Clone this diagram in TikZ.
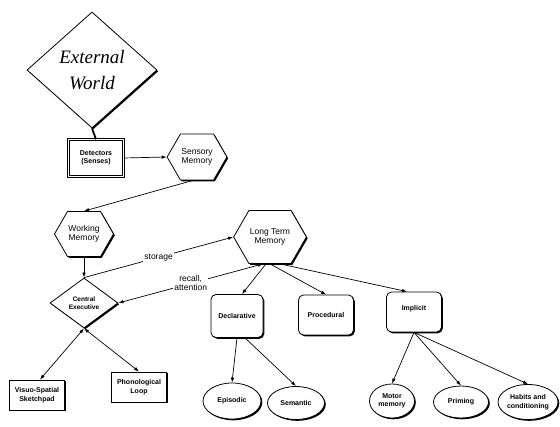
\documentclass[tikz,border=0pt]{standalone}
\usepackage{fontspec}
\setmainfont{Liberation Sans}
\newfontfamily\extfont{Liberation Serif}
\usetikzlibrary{shapes.geometric,shapes.symbols,arrows.meta,shadows}
\begin{document}
\begin{tikzpicture}[x=1pt,y=-1pt,
  base/.style={draw, line width=0.8pt, fill=white, inner sep=1pt, align=center,
    drop shadow={shadow xshift=1.3pt, shadow yshift=-1.3pt, opacity=1, fill=black}},
  hexa/.style={base, signal, signal to=east and west, signal pointer angle=120,
    font=\fontsize{8.5}{9.5}\selectfont},
  box/.style={base, rectangle, font=\bfseries\fontsize{7}{8.5}\selectfont},
  rbox/.style={box, rounded corners=5pt},
  oval/.style={base, ellipse, inner sep=0pt, font=\bfseries\fontsize{7}{8.5}\selectfont},
  dia/.style={base, diamond, inner sep=0pt},
  arr/.style={-{Latex[length=5pt,width=3.5pt]}, line width=0.7pt},
  darr/.style={{Latex[length=5pt,width=3.5pt]}-{Latex[length=5pt,width=3.5pt]}, line width=0.7pt},
  lbl/.style={fill=white, inner sep=1pt, font=\fontsize{8.5}{9}\selectfont, align=center}]
\path[use as bounding box, fill=white] (0,0) rectangle (560,427);

% nodes
\node[dia, minimum width=130, minimum height=116, font=\extfont\itshape\fontsize{19}{26}\selectfont] (ext) at (92,70) {External\\World};
\node[box, double, double distance=1.2pt, line width=0.5pt, minimum width=55, minimum height=37] (det) at (96,158) {Detectors\\(Senses)};
\node[hexa, minimum width=57, minimum height=46] (sens) at (197,157) {Sensory\\Memory};
\node[hexa, minimum width=58, minimum height=45] (wm) at (84,234) {Working\\Memory};
\node[hexa, minimum width=70, minimum height=53] (ltm) at (270,237) {Long Term\\Memory};
\node[dia, minimum width=68, minimum height=50, font=\bfseries\fontsize{6.5}{8}\selectfont] (ce) at (84,303) {Central\\Executive};
\node[box, minimum width=55, minimum height=30] (vis) at (37,395) {Visuo-Spatial\\Sketchpad};
\node[box, minimum width=55, minimum height=30] (pho) at (139,387) {Phonological\\Loop};
\node[rbox, minimum width=52, minimum height=43] (dec) at (237,316) {Declarative};
\node[rbox, minimum width=55, minimum height=40] (pro) at (326,315) {Procedural};
\node[rbox, minimum width=55, minimum height=40] (imp) at (414,312) {Implicit\\\mbox{}};
\node[oval, minimum width=58, minimum height=36] (epi) at (232,401) {Episodic};
\node[oval, minimum width=57, minimum height=33] (sem) at (296,403) {Semantic};
\node[oval, minimum width=45, minimum height=34] (mot) at (392,401) {Motor\\memory};
\node[oval, minimum width=55, minimum height=32] (pri) at (461,402) {Priming};
\node[oval, minimum width=60, minimum height=35] (hab) at (528,402) {Habits and\\conditioning};

% connectors
\draw[line width=1.8pt] (ext.south) -- (det.north);
\draw[arr] (det.east) -- (sens.west);
\draw[arr] ([xshift=-4pt]sens.south) -- (wm.north);
\draw[arr] (wm.south) -- (ce.north);
\draw[arr] (ce.north) -- node[lbl]{storage} (ltm.west);
\draw[darr] ([xshift=-7pt]ltm.south) -- node[lbl]{recall,\\attention} (ce.east);
\draw[arr] ([xshift=-4pt]ltm.south) -- ([xshift=5pt]dec.north);
\draw[arr] (ltm.south) -- (pro.north);
\draw[arr] ([xshift=10pt]ltm.south) -- ([xshift=-7pt]imp.north);
\draw[arr] (dec.south) -- (epi.north);
\draw[arr] ([xshift=8pt]dec.south) -- (sem.north);
\draw[arr] (imp.south) -- (mot.north);
\draw[arr] (imp.south) -- (pri.north);
\draw[arr] (imp.south) -- (hab.north);
\draw[darr] (ce.south) -- ([xshift=3pt]vis.north);
\draw[darr] (ce.south) -- (pho.north);
\end{tikzpicture}
\end{document}
